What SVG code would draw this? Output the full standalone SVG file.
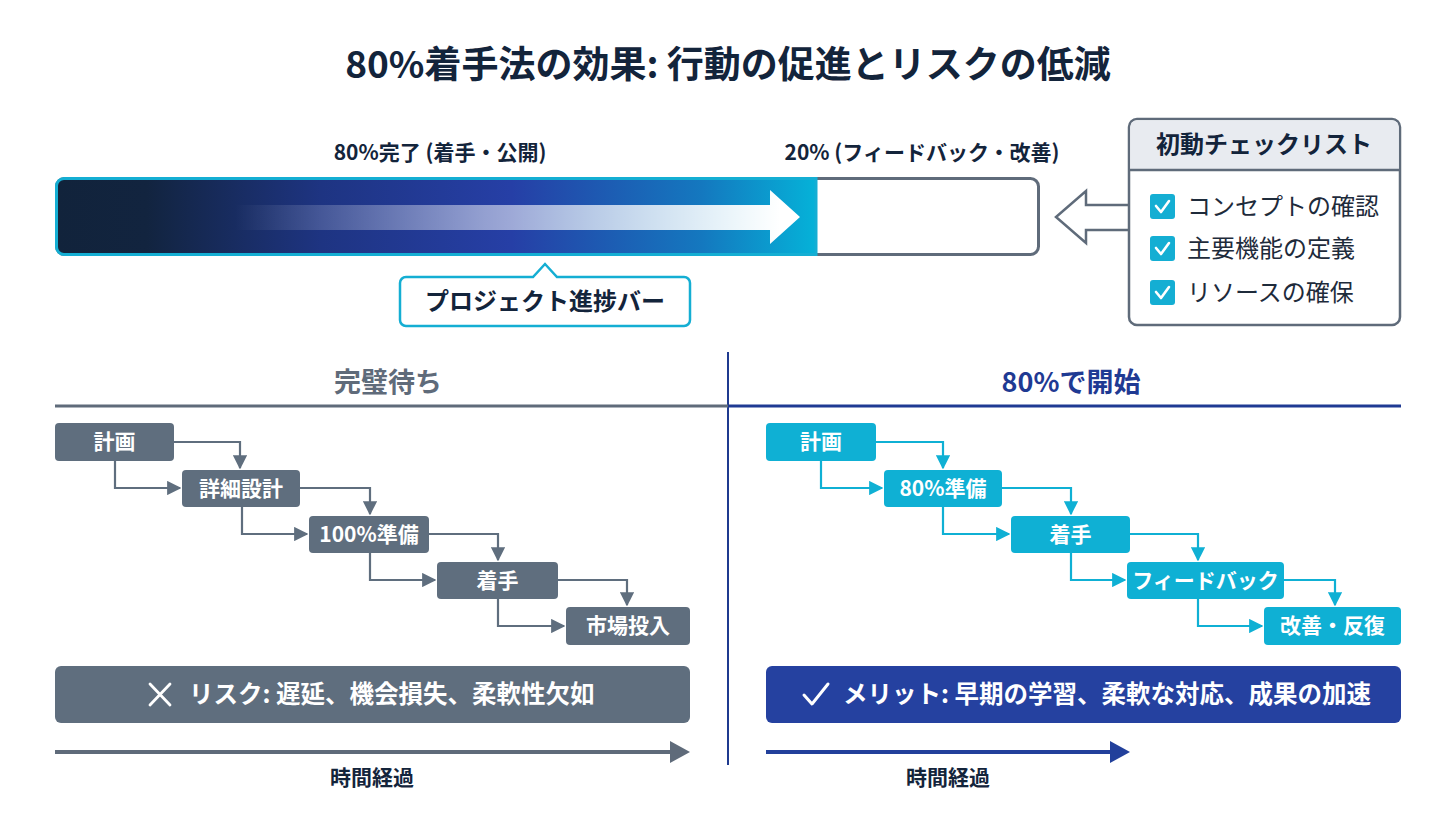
<svg xmlns="http://www.w3.org/2000/svg" width="1456" height="813" viewBox="0 0 1456 813">
<defs>
<style>
text{font-family:"Noto Sans CJK JP","Noto Sans",sans-serif}
.title{font-size:37px;font-weight:700;fill:#13243b}
.lbl{font-size:21px;font-weight:700;fill:#13243b}
.hdr{font-size:27px;font-weight:700}
.ntxt{font-size:21px;font-weight:700;fill:#ffffff}
.gnode{fill:#5f6e7e}
.cnode{fill:#0fb0d4}
.gcon{fill:none;stroke:#5f6e7e;stroke-width:2.2}
.ccon{fill:none;stroke:#0fb0d4;stroke-width:2.2}
.item{font-size:24px;fill:#1e2b3b}
.btxt{font-size:24.5px;font-weight:700;fill:#ffffff}
</style>
<linearGradient id="barGrad" x1="55" y1="0" x2="816" y2="0" gradientUnits="userSpaceOnUse">
<stop offset="0" stop-color="#11233b"/>
<stop offset="0.12" stop-color="#12243f"/>
<stop offset="0.35" stop-color="#1e3482"/>
<stop offset="0.6" stop-color="#263fa6"/>
<stop offset="0.85" stop-color="#1478bf"/>
<stop offset="1" stop-color="#05b2d8"/>
</linearGradient>
<linearGradient id="arrGrad" x1="235" y1="0" x2="780" y2="0" gradientUnits="userSpaceOnUse">
<stop offset="0" stop-color="#ffffff" stop-opacity="0"/>
<stop offset="0.45" stop-color="#ffffff" stop-opacity="0.5"/>
<stop offset="1" stop-color="#ffffff" stop-opacity="1"/>
</linearGradient>
<marker id="ag" viewBox="0 0 10 10" refX="9" refY="5" markerWidth="6.5" markerHeight="6.5" markerUnits="strokeWidth" orient="auto">
<path d="M0,0 L10,5 L0,10 z" fill="#5f6e7e"/>
</marker>
<marker id="ac" viewBox="0 0 10 10" refX="9" refY="5" markerWidth="6.5" markerHeight="6.5" markerUnits="strokeWidth" orient="auto">
<path d="M0,0 L10,5 L0,10 z" fill="#0fb0d4"/>
</marker>
</defs>
<rect width="1456" height="813" fill="#ffffff"/>

<text class="title" x="728" y="78" text-anchor="middle">80%着手法の効果: 行動の促進とリスクの低減</text>

<g id="progress-bar">
<text class="lbl" x="440" y="160" text-anchor="middle">80%完了 (着手・公開)</text>
<text class="lbl" x="922" y="160" text-anchor="middle">20% (フィードバック・改善)</text>
<rect x="56.5" y="178.5" width="982" height="76" rx="8" fill="#ffffff" stroke="#5f6b7a" stroke-width="3"/>
<path d="M64,178.5 H816 V254.5 H64 A7.5,7.5 0 0 1 56.5,247 V186 A7.5,7.5 0 0 1 64,178.5 Z" fill="url(#barGrad)" stroke="#14aed3" stroke-width="3"/>
<path d="M235,205 H770 V190 L800,217 L770,244 V230 H235 Z" fill="url(#arrGrad)"/>
</g>

<g id="callout">
<path d="M406,277 H533 L545,264 L557,277 H684 A6,6 0 0 1 690,283 V320 A6,6 0 0 1 684,326 H406 A6,6 0 0 1 400,320 V283 A6,6 0 0 1 406,277 Z" fill="#ffffff" stroke="#14aed3" stroke-width="2.5"/>
<text x="545" y="310" text-anchor="middle" style="font-size:24px;font-weight:700;fill:#13243b">プロジェクト進捗バー</text>
</g>

<g id="checklist-arrow">
<path d="M1128,205 H1086 V191 L1056,217 L1086,243 V230 H1128" fill="#ffffff" stroke="#5f6b7a" stroke-width="2.5" stroke-linejoin="miter"/>
</g>

<g id="checklist">
<rect x="1129" y="119" width="271" height="206" rx="8" fill="#ffffff" stroke="#5f6b7a" stroke-width="2.5"/>
<path d="M1137,120.25 H1392 A6.75,6.75 0 0 1 1398.75,127 V170 H1130.25 V127 A6.75,6.75 0 0 1 1137,120.25 Z" fill="#e8ebf0"/>
<line x1="1129" y1="170" x2="1400" y2="170" stroke="#5f6b7a" stroke-width="2.5"/>
<text x="1264" y="153" text-anchor="middle" style="font-size:24px;font-weight:700;fill:#13243b">初動チェックリスト</text>
<g>
<rect x="1150" y="194" width="25" height="25" rx="3" fill="#14aed3"/>
<polyline points="1156,206 1161,212 1169,201" fill="none" stroke="#ffffff" stroke-width="2.6" stroke-linecap="round" stroke-linejoin="round"/>
<text class="item" x="1187" y="215">コンセプトの確認</text>
</g>
<g>
<rect x="1150" y="236" width="25" height="25" rx="3" fill="#14aed3"/>
<polyline points="1156,248 1161,254 1169,243" fill="none" stroke="#ffffff" stroke-width="2.6" stroke-linecap="round" stroke-linejoin="round"/>
<text class="item" x="1187" y="257">主要機能の定義</text>
</g>
<g>
<rect x="1150" y="280" width="25" height="25" rx="3" fill="#14aed3"/>
<polyline points="1156,292 1161,298 1169,287" fill="none" stroke="#ffffff" stroke-width="2.6" stroke-linecap="round" stroke-linejoin="round"/>
<text class="item" x="1187" y="301">リソースの確保</text>
</g>
</g>

<g id="section-dividers">
<line x1="728" y1="352" x2="728" y2="765" stroke="#1f3a8f" stroke-width="2"/>
<line x1="55" y1="406" x2="728" y2="406" stroke="#5f6b7a" stroke-width="3"/>
<line x1="728" y1="406" x2="1401" y2="406" stroke="#1f3a93" stroke-width="3"/>
<text class="hdr" x="388" y="392" text-anchor="middle" fill="#5f6b7a">完璧待ち</text>
<text class="hdr" x="1071" y="392" text-anchor="middle" fill="#1f3a93">80%で開始</text>
</g>

<g id="connectors">
<path class="gcon" d="M174,442 H240 V468" marker-end="url(#ag)"/>
<path class="gcon" d="M115,461 V488 H180" marker-end="url(#ag)"/>
<path class="gcon" d="M300,488 H370 V514" marker-end="url(#ag)"/>
<path class="gcon" d="M242,507 V534 H307" marker-end="url(#ag)"/>
<path class="gcon" d="M429,534 H498 V560" marker-end="url(#ag)"/>
<path class="gcon" d="M370,553 V580 H435" marker-end="url(#ag)"/>
<path class="gcon" d="M558,580 H627 V605" marker-end="url(#ag)"/>
<path class="gcon" d="M498,599 V626 H564" marker-end="url(#ag)"/>

<path class="ccon" d="M876,442 H943 V468" marker-end="url(#ac)"/>
<path class="ccon" d="M821,461 V488 H882" marker-end="url(#ac)"/>
<path class="ccon" d="M1002,488 H1071 V514" marker-end="url(#ac)"/>
<path class="ccon" d="M943,507 V534 H1009" marker-end="url(#ac)"/>
<path class="ccon" d="M1130,534 H1198 V560" marker-end="url(#ac)"/>
<path class="ccon" d="M1071,553 V580 H1125" marker-end="url(#ac)"/>
<path class="ccon" d="M1284,580 H1335 V605" marker-end="url(#ac)"/>
<path class="ccon" d="M1198,599 V626 H1262" marker-end="url(#ac)"/>
</g>

<g id="w-plan"><rect class="gnode" x="55" y="423" width="119" height="38" rx="4"/><text class="ntxt" x="114.5" y="449" text-anchor="middle">計画</text></g>
<g id="w-design"><rect class="gnode" x="182" y="470" width="118" height="37" rx="4"/><text class="ntxt" x="241" y="496" text-anchor="middle">詳細設計</text></g>
<g id="w-prep"><rect class="gnode" x="309" y="516" width="120" height="37" rx="4"/><text class="ntxt" x="369" y="542" text-anchor="middle">100%準備</text></g>
<g id="w-start"><rect class="gnode" x="437" y="562" width="121" height="37" rx="4"/><text class="ntxt" x="497.5" y="588" text-anchor="middle">着手</text></g>
<g id="w-launch"><rect class="gnode" x="566" y="607" width="124" height="38" rx="4"/><text class="ntxt" x="628" y="633" text-anchor="middle">市場投入</text></g>

<g id="s-plan"><rect class="cnode" x="766" y="423" width="110" height="38" rx="4"/><text class="ntxt" x="821" y="449" text-anchor="middle">計画</text></g>
<g id="s-prep"><rect class="cnode" x="884" y="470" width="118" height="37" rx="4"/><text class="ntxt" x="943" y="496" text-anchor="middle">80%準備</text></g>
<g id="s-start"><rect class="cnode" x="1011" y="516" width="119" height="37" rx="4"/><text class="ntxt" x="1070.5" y="542" text-anchor="middle">着手</text></g>
<g id="s-feedback"><rect class="cnode" x="1127" y="562" width="157" height="37" rx="4"/><text class="ntxt" x="1205.5" y="588" text-anchor="middle">フィードバック</text></g>
<g id="s-improve"><rect class="cnode" x="1264" y="607" width="137" height="38" rx="4"/><text class="ntxt" x="1332.5" y="633" text-anchor="middle">改善・反復</text></g>

<g id="risk-banner">
<rect x="55" y="666" width="635" height="57" rx="6" fill="#5f6e7e"/>
<path d="M150,684 L170,705 M170,684 L150,705" stroke="#ffffff" stroke-width="2.8" stroke-linecap="round"/>
<text class="btxt" x="189" y="703">リスク: 遅延、機会損失、柔軟性欠如</text>
</g>

<g id="merit-banner">
<rect x="766" y="666" width="635" height="57" rx="6" fill="#2541a0"/>
<polyline points="804,695 812,704 828,684" fill="none" stroke="#ffffff" stroke-width="3" stroke-linecap="round" stroke-linejoin="round"/>
<text class="btxt" x="843" y="703">メリット: 早期の学習、柔軟な対応、成果の加速</text>
</g>

<g id="time-left">
<line x1="55" y1="752" x2="672" y2="752" stroke="#5f6b7a" stroke-width="4"/>
<path d="M670,741 L690,752 L670,763 Z" fill="#5f6b7a"/>
<text class="lbl" x="372" y="785" text-anchor="middle">時間経過</text>
</g>
<g id="time-right">
<line x1="766" y1="752" x2="1112" y2="752" stroke="#22409b" stroke-width="4"/>
<path d="M1110,741 L1130,752 L1110,763 Z" fill="#22409b"/>
<text class="lbl" x="948" y="785" text-anchor="middle">時間経過</text>
</g>
</svg>
